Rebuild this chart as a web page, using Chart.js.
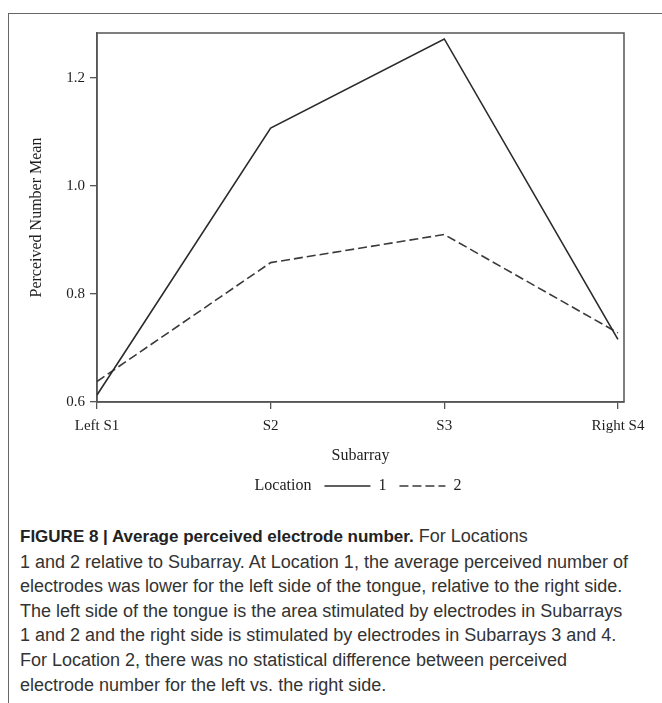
<!DOCTYPE html>
<html>
<head>
<meta charset="UTF-8">
<title>Average perceived electrode number</title>
<script src="https://cdn.jsdelivr.net/npm/chart.js"></script>
<style>
  html, body { margin: 0; padding: 0; background: #fff; }
  body { width: 662px; height: 703px; overflow: hidden; position: relative; }
  #frame { position: absolute; left: 8px; top: 13px; width: 700px; height: 720px;
           border-left: 1.5px solid #666; border-top: 1.5px solid #666; }
  #chart { position: absolute; left: 0; top: 0; }
  #caption { position: absolute; left: 20px; top: 524px; font-family: "Liberation Sans", Arial, sans-serif;
             font-size: 18px; line-height: 24.6px; color: #333; white-space: nowrap; }
  #caption b { color: #222; font-size: 17px; }
</style>
</head>
<body>

<div id="frame"></div>
<canvas id="chart" width="662" height="510"></canvas>

<div id="caption">
  <b>FIGURE 8 | Average perceived electrode number.</b> For Locations<br>
  1 and 2 relative to Subarray. At Location 1, the average perceived number of<br>
  electrodes was lower for the left side of the tongue, relative to the right side.<br>
  The left side of the tongue is the area stimulated by electrodes in Subarrays<br>
  1 and 2 and the right side is stimulated by electrodes in Subarrays 3 and 4.<br>
  For Location 2, there was no statistical difference between perceived<br>
  electrode number for the left vs. the right side.
</div>

<script>
  // values
  const subarrays = ['Left S1', 'S2', 'S3', 'Right S4'];
  const location1 = [0.613, 1.107, 1.272, 0.716];
  const location2 = [0.638, 0.858, 0.910, 0.728];
  const yTicks = [0.6, 0.8, 1.0, 1.2];
  const seriesNames = ['1', '2'];

  const serif = { family: '"Liberation Serif", "Times New Roman", serif', size: 15 };
  const serifTitle = { family: '"Liberation Serif", "Times New Roman", serif', size: 16 };
  const ink = '#1e1e1e';
  const axisGrey = '#555';

  const toPoints = vals => vals.map((v, i) => ({ x: i, y: v }));

  // box round the plot area (top and right sides come from here)
  const plotFrame = {
    id: 'plotFrame',
    beforeDatasetsDraw(chart) {
      const { ctx, chartArea: a } = chart;
      ctx.save();
      ctx.strokeStyle = axisGrey;
      ctx.lineWidth = 1.5;
      ctx.strokeRect(a.left, a.top, a.right - a.left, a.bottom - a.top);
      ctx.restore();
    }
  };

  new Chart(document.getElementById('chart'), {
    type: 'line',
    data: {
      datasets: [
        { label: seriesNames[0], data: toPoints(location1), borderColor: '#2a2a2a', borderWidth: 1.6,
          pointRadius: 0, tension: 0 },
        { label: seriesNames[1], data: toPoints(location2), borderColor: '#3a3a3a', borderWidth: 1.6,
          borderDash: [9, 4], pointRadius: 0, tension: 0 }
      ]
    },
    options: {
      responsive: false,
      animation: false,
      layout: { padding: { top: 33, right: 0, bottom: 6, left: 0 } },
      scales: {
        x: {
          type: 'linear',
          min: 0,
          max: 3.035,
          afterBuildTicks: s => { s.ticks = subarrays.map((c, i) => ({ value: i })); },
          afterFit: s => { s.height = 63; },
          ticks: { callback: v => subarrays[v], font: serif, color: ink, padding: 8,
                   maxRotation: 0, autoSkip: false },
          grid: { drawOnChartArea: false, tickLength: 7, color: axisGrey, lineWidth: 1.3 },
          border: { color: axisGrey, width: 1.5 },
          title: { display: true, text: 'Subarray', font: serifTitle, color: ink, padding: { top: 4, bottom: 0 } }
        },
        y: {
          min: 0.6,
          max: 1.283,
          afterBuildTicks: s => { s.ticks = yTicks.map(v => ({ value: v })); },
          afterFit: s => { s.width = 97; },
          ticks: { callback: v => v.toFixed(1), font: serif, color: ink, padding: 5 },
          grid: { drawOnChartArea: false, tickLength: 7, color: axisGrey, lineWidth: 1.3 },
          border: { color: axisGrey, width: 1.5 },
          title: { display: true, text: 'Perceived Number Mean', font: serifTitle, color: ink,
                   padding: { top: 27, bottom: 0 } }
        },
        // empty right-hand strip: keeps the plot off the right edge while the legend stays page-centred
        spacer: {
          type: 'linear',
          position: 'right',
          afterFit: s => { s.width = 38; },
          ticks: { display: false },
          grid: { display: false },
          border: { display: false }
        }
      },
      plugins: {
        tooltip: { enabled: false },
        legend: {
          position: 'bottom',
          labels: {
            font: serifTitle,
            color: ink,
            padding: 13,
            usePointStyle: true,
            pointStyle: 'line',
            pointStyleWidth: 46,
            generateLabels: chart => {
              const items = Chart.defaults.plugins.legend.labels.generateLabels(chart);
              items.forEach(it => {
                const ds = chart.data.datasets[it.datasetIndex];
                it.lineDash = ds.borderDash || [];
                it.lineWidth = 1.3;
                it.strokeStyle = ds.borderColor;
              });
              // "Location" heading sits in front of the items, with no line of its own
              const heading = { text: 'Location', fillStyle: 'rgba(0,0,0,0)', strokeStyle: 'rgba(0,0,0,0)',
                                lineWidth: 0, pointStyle: 'line', hidden: false, datasetIndex: -1, fontColor: ink };
              return [heading].concat(items);
            }
          }
        }
      }
    },
    plugins: [plotFrame]
  });
</script>

</body>
</html>
